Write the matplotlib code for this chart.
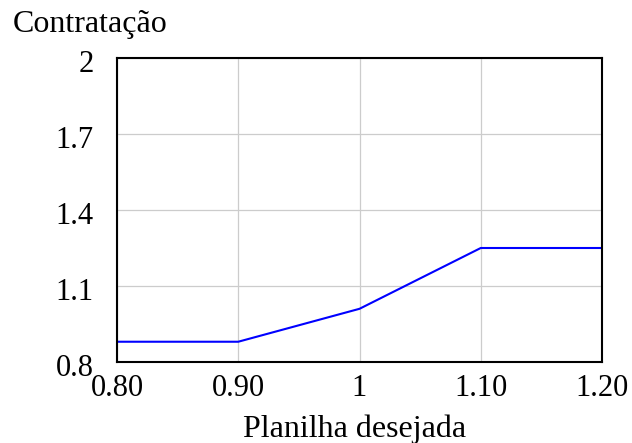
import matplotlib
matplotlib.use("Agg")
from matplotlib import pyplot as plt
from matplotlib import transforms

planilha = [0.80, 0.90, 1.00, 1.10, 1.20]
contratacao = [0.88, 0.88, 1.01, 1.25, 1.25]

x_ticks = [0.80, 0.90, 1.00, 1.10, 1.20]
x_labels = ["0.80", "0.90", "1", "1.10", "1.20"]
y_ticks = [0.8, 1.1, 1.4, 1.7, 2.0]
y_labels = ["0.8", "1.1", "1.4", "1.7", "2"]

plt.rcParams['font.family'] = ['Liberation Serif', 'DejaVu Serif']

W, H = 632, 443
fig = plt.figure(figsize=(W / 100, H / 100), dpi=100)
ax = fig.add_axes([117 / W, 1 - 362 / H, 485 / W, 304 / H])
ax.plot(planilha, contratacao, color='blue', linewidth=1.5)
ax.set_xlim(0.8, 1.2)
ax.set_ylim(0.8, 2.0)
ax.set_xticks(x_ticks)
ax.set_xticklabels(x_labels, fontsize=22)
ax.set_yticks(y_ticks)
ax.set_yticklabels(y_labels, fontsize=22)
ax.tick_params(length=0)
ax.tick_params(axis='x', pad=9)
ax.tick_params(axis='y', pad=17)
# y labels sit a little below their grid lines in the reference
shift = transforms.ScaledTranslation(0, -3 / 100, fig.dpi_scale_trans)
for lab in ax.get_yticklabels():
    lab.set_transform(lab.get_transform() + shift)
ax.grid(True, color='#cccccc', linewidth=0.9)
ax.set_axisbelow(True)
for s in ax.spines.values():
    s.set_linewidth(1.5)

# axis titles placed by baseline
fig.text(355 / W, 1 - 437 / H, 'Planilha desejada', fontsize=23,
         ha='center', va='baseline')
fig.text(13 / W, 1 - 32 / H, 'Contratação', fontsize=23,
         ha='left', va='baseline')
fig.savefig('out.png')
